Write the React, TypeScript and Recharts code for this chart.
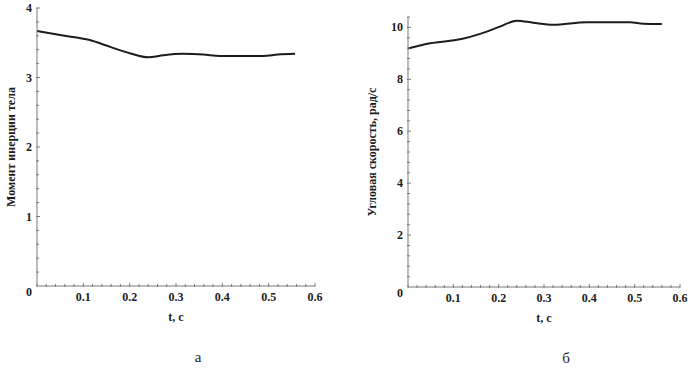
import React from "react";
import { LineChart, Line, XAxis, YAxis, Label } from "recharts";

// ---- data ----
const timeA = [0, 0.05, 0.114, 0.158, 0.2, 0.24, 0.273, 0.316, 0.359, 0.395, 0.44, 0.488, 0.52, 0.557];
const inertia = [3.67, 3.61, 3.54, 3.44, 3.35, 3.29, 3.32, 3.34, 3.33, 3.31, 3.31, 3.31, 3.33, 3.34];

const timeB = [0, 0.049, 0.118, 0.159, 0.203, 0.24, 0.276, 0.321, 0.394, 0.44, 0.49, 0.519, 0.56];
const omega = [9.19, 9.39, 9.55, 9.75, 10.03, 10.26, 10.18, 10.1, 10.2, 10.2, 10.2, 10.14, 10.13];

const xTicks = [0, 0.02, 0.04, 0.06, 0.08, 0.1, 0.12, 0.14, 0.16, 0.18, 0.2, 0.22, 0.24, 0.26, 0.28, 0.3, 0.32, 0.34, 0.36, 0.38, 0.4, 0.42, 0.44, 0.46, 0.48, 0.5, 0.52, 0.54, 0.56, 0.58, 0.6];
const xMajor = [0.1, 0.2, 0.3, 0.4, 0.5, 0.6];
const xMajorLabels = ["0.1", "0.2", "0.3", "0.4", "0.5", "0.6"];

const yTicksA = [0, 0.2, 0.4, 0.6, 0.8, 1, 1.2, 1.4, 1.6, 1.8, 2, 2.2, 2.4, 2.6, 2.8, 3, 3.2, 3.4, 3.6, 3.8, 4];
const yMajorA = [0, 1, 2, 3, 4];
const yMajorLabelsA = ["0", "1", "2", "3", "4"];

const yTicksB = [0, 0.4, 0.8, 1.2, 1.6, 2, 2.4, 2.8, 3.2, 3.6, 4, 4.4, 4.8, 5.2, 5.6, 6, 6.4, 6.8, 7.2, 7.6, 8, 8.4, 8.8, 9.2, 9.6, 10, 10.4];
const yMajorB = [0, 2, 4, 6, 8, 10];
const yMajorLabelsB = ["0", "2", "4", "6", "8", "10"];

const dataA = timeA.map((t, i) => ({ t, v: inertia[i] }));
const dataB = timeB.map((t, i) => ({ t, v: omega[i] }));

const FONT = "'Liberation Serif', 'DejaVu Serif', serif";
const AXIS = "#7a7a7a";
const INK = "#1c1c1c";

const findMajor = (v: number, majors: number[], labels: string[]) => {
  const idx = majors.findIndex((m) => Math.abs(m - v) < 1e-6);
  return idx >= 0 ? labels[idx] : null;
};

const makeXTick = () => (props: any) => {
  const { x, y, payload } = props;
  const lbl = findMajor(payload.value, xMajor, xMajorLabels);
  const len = lbl ? 3 : 2;
  return (
    <g>
      <line x1={x} x2={x} y1={y - len} y2={y + 1} stroke={AXIS} strokeWidth={1} />
      {lbl && (
        <text x={x} y={y + 15} textAnchor="middle" fontFamily={FONT} fontWeight="bold" fontSize={12} fill={INK}>
          {lbl}
        </text>
      )}
    </g>
  );
};

const makeYTick = (majors: number[], labels: string[]) => (props: any) => {
  const { x, y, payload } = props;
  const lbl = findMajor(payload.value, majors, labels);
  const len = lbl ? 3 : 2;
  const isZero = Math.abs(payload.value) < 1e-6;
  return (
    <g>
      {!isZero && <line x1={x - 1} x2={x + len} y1={y} y2={y} stroke={AXIS} strokeWidth={1} />}
      {lbl && (
        <text
          x={x - 5}
          y={y + (isZero ? 10 : 4)}
          textAnchor="end"
          fontFamily={FONT}
          fontWeight="bold"
          fontSize={12}
          fill={INK}
        >
          {lbl}
        </text>
      )}
    </g>
  );
};

const yLabel = (text: string, dx: number, size: number) => (props: any) => {
  const vb = props.viewBox || {};
  const cx = (vb.x || 0) + dx;
  const cy = (vb.y || 0) + (vb.height || 0) / 2;
  return (
    <text
      x={cx}
      y={cy}
      transform={`rotate(-90, ${cx}, ${cy})`}
      textAnchor="middle"
      dominantBaseline="central"
      fontFamily={FONT}
      fontWeight="bold"
      fontSize={size}
      fill={INK}
    >
      {text}
    </text>
  );
};

const xLabel = (caption: string) => (props: any) => {
  const vb = props.viewBox || {};
  const cx = (vb.x || 0) + (vb.width || 0) / 2;
  const y0 = vb.y || 0;
  return (
    <g>
      <text x={cx} y={y0 + 35} textAnchor="middle" fontFamily={FONT} fontWeight="bold" fontSize={12} fill={INK}>
        t, c
      </text>
      <text x={cx + 22} y={y0 + 76} textAnchor="middle" fontFamily={FONT} fontSize={15} fill={INK}>
        {caption}
      </text>
    </g>
  );
};

export default function App() {
  return (
    <div style={{ position: "fixed", left: 0, top: 0, width: 700, height: 371, background: "#fff" }}>
      <div style={{ position: "absolute", left: 0, top: 0 }}>
        <LineChart width={350} height={371} data={dataA} margin={{ top: 8, right: 35, bottom: 55, left: 0 }}>
          <XAxis
            dataKey="t"
            type="number"
            domain={[0, 0.6]}
            ticks={xTicks}
            interval={0}
            tickSize={0}
            tickMargin={0}
            tickLine={false}
            axisLine={{ stroke: AXIS, strokeWidth: 1 }}
            tick={makeXTick()}
            height={30}
          >
            <Label content={xLabel("а")} />
          </XAxis>
          <YAxis
            type="number"
            domain={[0, 4]}
            ticks={yTicksA}
            interval={0}
            tickSize={0}
            tickMargin={0}
            tickLine={false}
            axisLine={{ stroke: AXIS, strokeWidth: 1 }}
            tick={makeYTick(yMajorA, yMajorLabelsA)}
            width={37}
          >
            <Label content={yLabel("Момент инерции тела", 11, 12)} />
          </YAxis>
          <Line
            dataKey="v"
            type="monotone"
            stroke={INK}
            strokeWidth={2}
            dot={false}
            isAnimationActive={false}
          />
        </LineChart>
      </div>
      <div style={{ position: "absolute", left: 350, top: 0 }}>
        <LineChart width={350} height={371} data={dataB} margin={{ top: 17, right: 20, bottom: 54, left: 0 }}>
          <XAxis
            dataKey="t"
            type="number"
            domain={[0, 0.6]}
            ticks={xTicks}
            interval={0}
            tickSize={0}
            tickMargin={0}
            tickLine={false}
            axisLine={{ stroke: AXIS, strokeWidth: 1 }}
            tick={makeXTick()}
            height={30}
          >
            <Label content={xLabel("б")} />
          </XAxis>
          <YAxis
            type="number"
            domain={[0, 10.4]}
            ticks={yTicksB}
            interval={0}
            tickSize={0}
            tickMargin={0}
            tickLine={false}
            axisLine={{ stroke: AXIS, strokeWidth: 1 }}
            tick={makeYTick(yMajorB, yMajorLabelsB)}
            width={58}
          >
            <Label content={yLabel("Угловая скорость, рад/с", 22, 12)} />
          </YAxis>
          <Line
            dataKey="v"
            type="monotone"
            stroke={INK}
            strokeWidth={2}
            dot={false}
            isAnimationActive={false}
          />
        </LineChart>
      </div>
    </div>
  );
}
